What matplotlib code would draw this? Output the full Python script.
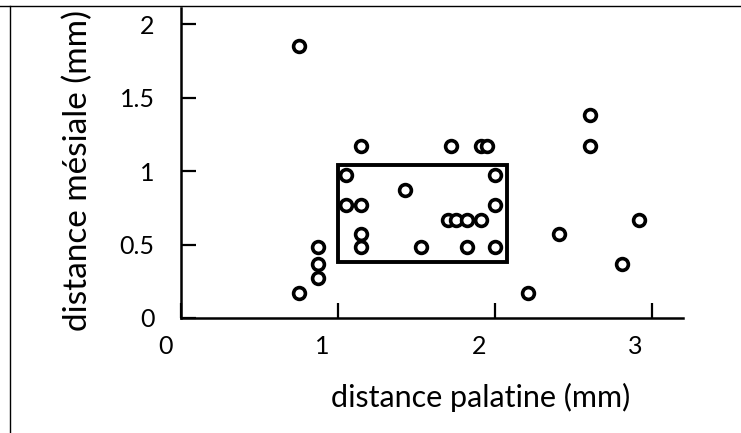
import numpy as np
import matplotlib
matplotlib.use("Agg")
import matplotlib.pyplot as plt
import matplotlib.transforms as mtrans
from matplotlib.patches import Rectangle
from matplotlib.lines import Line2D

# data (mm)
palatine = [0.75, 1.15, 1.72, 1.91, 1.95, 2.61, 2.61,
            1.05, 2.0, 1.43,
            1.05, 1.15, 2.0,
            1.70, 1.75, 1.82, 1.91, 2.92,
            1.15, 2.41,
            0.87, 1.15, 1.53, 1.82, 2.0,
            0.87, 2.81, 0.87, 0.75, 2.21]
mesiale = [1.85, 1.17, 1.17, 1.17, 1.17, 1.17, 1.38,
           0.97, 0.97, 0.87,
           0.77, 0.77, 0.77,
           0.67, 0.67, 0.67, 0.67, 0.67,
           0.57, 0.57,
           0.48, 0.48, 0.48, 0.48, 0.48,
           0.37, 0.37, 0.27, 0.17, 0.17]

# zone rectangle (x0, y0, x1, y1)
zone = [1.0, 0.38, 2.08, 1.04]

x_ticks = [0, 1, 2, 3]
y_ticks = [0, 0.5, 1, 1.5, 2]
y_ticklabels = ["0", "0.5", "1", "1.5", "2"]

plt.rcParams["font.family"] = ["Lato", "DejaVu Sans"]

fig = plt.figure(figsize=(7.41, 4.33), dpi=100)
ax = fig.add_axes([0.2443, 0.2656, 0.6775, 0.716])

ax.scatter(palatine, mesiale, s=72, facecolors="white", edgecolors="black",
           linewidths=2.6, zorder=3)

ax.add_patch(Rectangle((zone[0], zone[1]), zone[2] - zone[0], zone[3] - zone[1],
                       fill=False, edgecolor="black", linewidth=2.8, zorder=2))

ax.set_xlim(0, 3.2)
ax.set_ylim(0, 2.11)
ax.set_xticks(x_ticks)
ax.set_yticks(y_ticks)
ax.set_yticklabels(y_ticklabels)
ax.tick_params(direction="in", length=11, width=1.6, labelsize=18, color="black")
ax.tick_params(axis="y", pad=19)
ax.tick_params(axis="x", pad=12)

# the scanned labels sit a bit left of their ticks
shift = mtrans.ScaledTranslation(-16 / 100, 0, fig.dpi_scale_trans)
for lab in ax.get_xticklabels():
    lab.set_transform(lab.get_transform() + shift)

for s in ["top", "right"]:
    ax.spines[s].set_visible(False)
for s in ["left", "bottom"]:
    ax.spines[s].set_linewidth(1.8)

ax.set_xlabel("distance palatine (mm)", fontsize=22)
ax.set_ylabel("distance mésiale (mm)", fontsize=24)
ax.xaxis.set_label_coords(0.596, -0.21)
ax.yaxis.set_label_coords(-0.175, 0.475)

# frame lines of the scanned page (top and left)
fig.add_artist(Line2D([0.0, 1.0], [0.986, 0.986], color="black", linewidth=1.0,
                      transform=fig.transFigure))
fig.add_artist(Line2D([0.013, 0.013], [0.0, 0.986], color="black", linewidth=1.0,
                      transform=fig.transFigure))

fig.savefig("out.png", dpi=100)
